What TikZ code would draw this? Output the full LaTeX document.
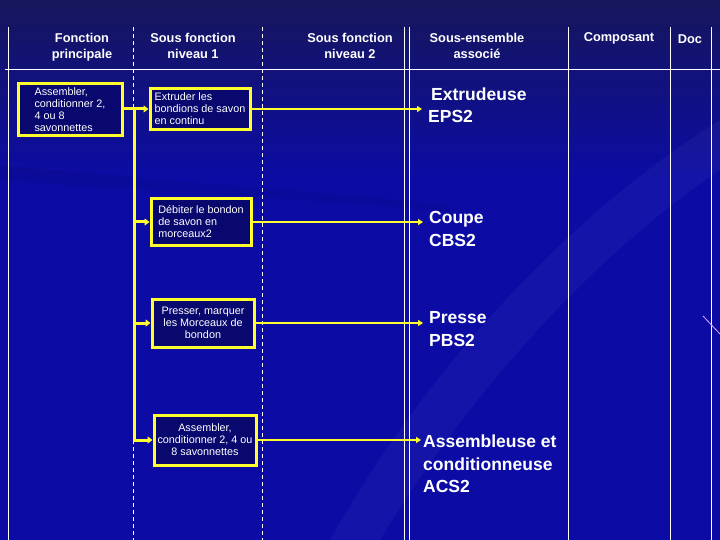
\documentclass[tikz,border=0pt]{standalone}
\usepackage{fontspec}
\setmainfont{Liberation Sans}
\usetikzlibrary{arrows.meta}
\definecolor{fondhaut}{RGB}{22,22,92}
\definecolor{fondbas}{RGB}{12,12,165}
\definecolor{fondboite}{RGB}{8,8,110}
\definecolor{jaune}{RGB}{255,255,45}
\definecolor{rose}{RGB}{225,170,255}

\begin{document}
\begin{tikzpicture}[x=1pt,y=-1pt]
\tikzset{fonction/.style={draw=jaune, line width=3pt, fill=fondboite, text=white, font=\fontsize{10.8}{12}\selectfont, inner sep=1.5pt, minimum width=100pt},
titre/.style={text=white, font=\bfseries\fontsize{12.8}{16}\selectfont, align=center},
sousens/.style={text=white, font=\bfseries\fontsize{17.5}{22.5}\selectfont, align=left, anchor=west, inner sep=0pt},
fleche/.style={jaune, line width=3pt, -{Triangle[length=5pt,width=7pt]}},
lien/.style={jaune, line width=2pt, -{Triangle[length=5pt,width=6pt]}, shorten >=6pt}}
\useasboundingbox (0,0) rectangle (720,540);
\fill[fondbas] (0,0) rectangle (720,540);
\fill[top color=fondhaut, bottom color=fondbas] (0,0) rectangle (720,180);
% reflets du fond
\fill[white, opacity=0.035] (720,120) .. controls (560,220) and (420,380) .. (330,540) -- (380,540) .. controls (470,390) and (600,250) .. (720,170) -- cycle;
\fill[black, opacity=0.06] (0,165) .. controls (150,180) and (300,190) .. (450,205) -- (450,212) .. controls (300,198) and (150,192) .. (0,180) -- cycle;
% grille
\foreach \x in {8,404,409,568,670,711}
  \draw[white, line width=0.8pt] (\x,27) -- (\x,540);
\foreach \x in {133,262}
  \draw[white, line width=0.8pt, dash pattern=on 4pt off 3pt] (\x,27) -- (\x,540);
\draw[white, line width=0.8pt] (5,69) -- (720,69);
\draw[rose, line width=0.8pt] (703,316) -- (720,334);
% titres
\node[titre] (t1) at (82,47) {Fonction\\principale};
\node[titre] (t2) at (193,46) {Sous fonction\\niveau 1};
\node[titre] (t3) at (350,46) {Sous fonction\\niveau 2};
\node[titre] (t4) at (477,46) {Sous-ensemble\\associé};
\node[titre] (t5) at (619,38) {Composant};
\node[titre] (t6) at (690,39) {Doc};
% fonctions
\node[fonction, align=left, minimum width=104pt, minimum height=52pt] (fp) at (70,110) {Assembler,\\conditionner 2,\\4 ou 8\\savonnettes};
\node[fonction, align=left, minimum height=41pt] (s1) at (200,109) {Extruder les\\bondions de savon\\en continu};
\node[fonction, align=left, minimum height=46pt] (s2) at (201,222) {Débiter le bondon\\de savon en\\morceaux2};
\node[fonction, align=center, minimum width=102pt, minimum height=48pt] (s3) at (203,323) {Presser, marquer\\les Morceaux de\\bondon};
\node[fonction, align=center, minimum width=102pt, minimum height=50pt] (s4) at (205,440) {Assembler,\\conditionner 2, 4 ou\\8 savonnettes};
% sous-ensembles
\node[sousens] (e1) at (428,105) {\hspace{3pt}Extrudeuse\\EPS2};
\node[sousens] (e2) at (429,229) {Coupe\\CBS2};
\node[sousens] (e3) at (429,329) {Presse\\PBS2};
\node[sousens] (e4) at (423,464) {Assembleuse et\\conditionneuse\\ACS2};
% liaisons
\coordinate (bus) at (134,109);
\draw[fleche] (fp.east |- s1.west) -- (s1.west);
\draw[jaune, line width=3pt] (bus) -- (bus |- s4.west);
\draw[fleche] (bus) |- (s2.west);
\draw[fleche] (bus) |- (s3.west);
\draw[fleche] (bus) |- (s4.west);
\draw[lien] (s1.east) -- (s1.east -| e1.west);
\draw[lien] (s2.east) -- (s2.east -| e2.west);
\draw[lien] (s3.east) -- (s3.east -| e3.west);
\draw[lien, shorten >=2pt] (s4.east) -- (s4.east -| e4.west);
\end{tikzpicture}
\end{document}
